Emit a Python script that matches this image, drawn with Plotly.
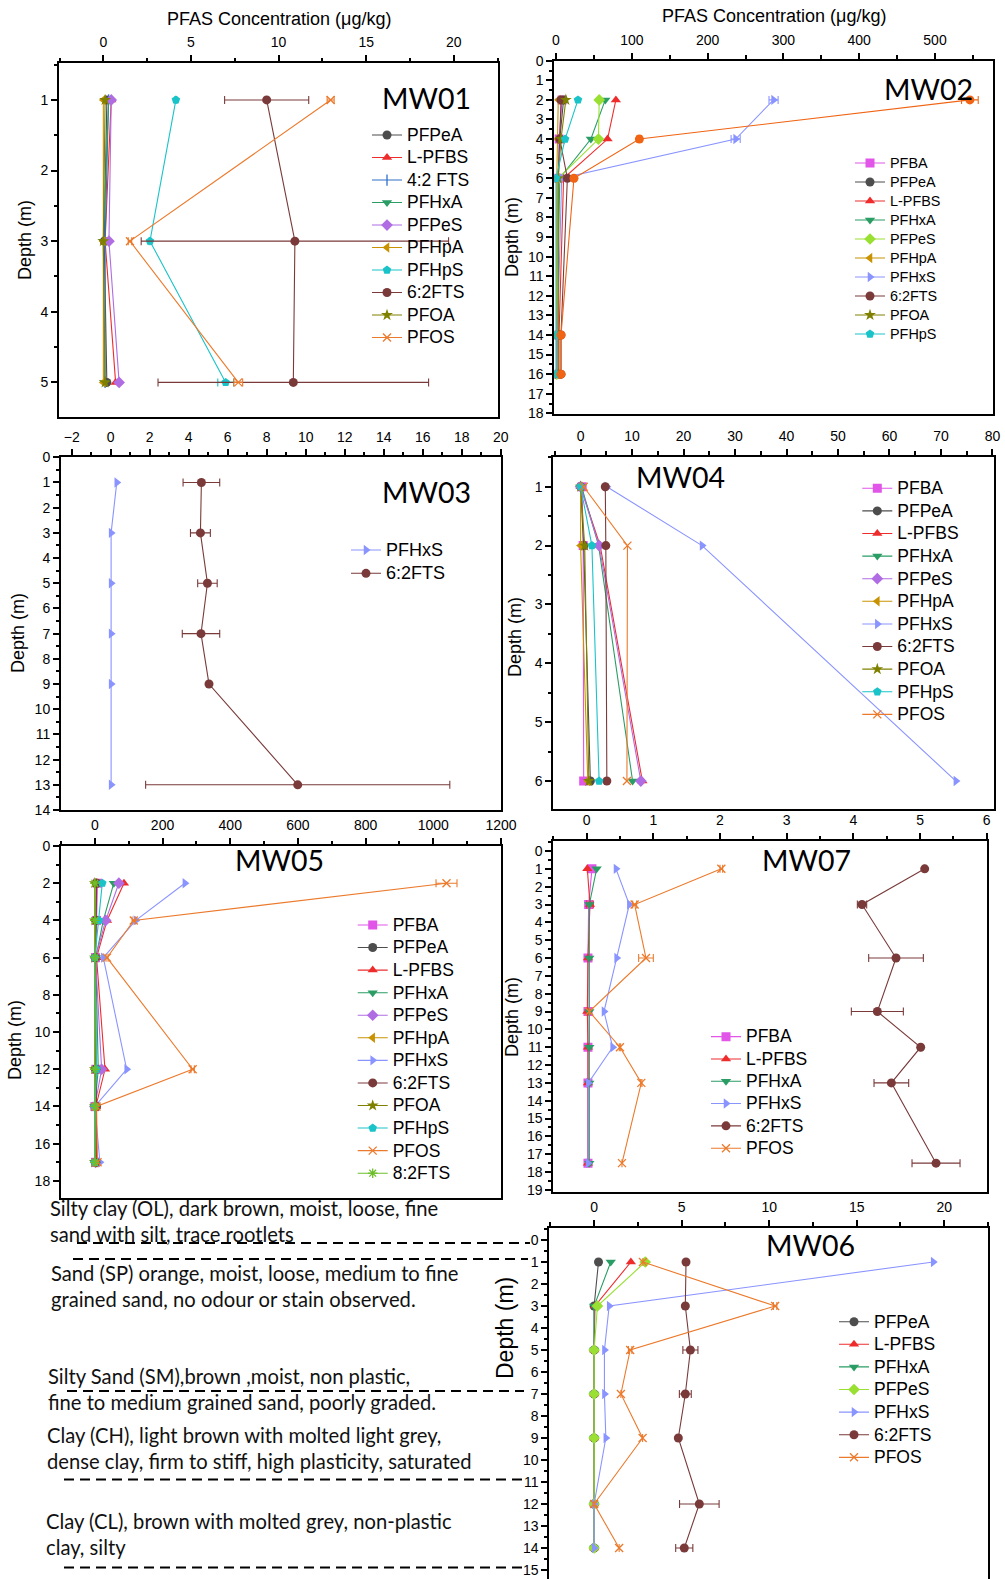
import plotly.graph_objects as go

W, H = 1005, 1579

# ------------------------------------------------------------------ data
MW01_DEPTH = [1, 3, 5]
MW01 = {
    "PFPeA": [0.2, 0.05, 0.2],
    "L-PFBS": [0.45, 0.1, 0.7],
    "4:2 FTS": [0.3, 0.1, 0.1],
    "PFHxA": [0.3, 0.0, 0.05],
    "PFPeS": [0.45, 0.32, 0.9],
    "PFHpA": [0.0, 0.0, 0.0],
    "PFHpS": [4.14, 2.66, 6.98],
    "6:2FTS": [9.32, 10.93, 10.84],
    "PFOA": [0.1, 0.0, 0.1],
    "PFOS": [12.97, 1.52, 7.7],
}
MW01_ERR = {"6:2FTS": [2.4, 8.77, 7.72], "PFOS": [0.2, 0.1, 0.25], "PFHpS": [0.05, 0.05, 0.45]}

MW02_DEPTH = [2, 4, 6, 14, 16]
MW02 = {
    "PFBA": [8, 4, 3, 2, 2],
    "PFPeA": [10, 5, 3, 2, 2],
    "L-PFBS": [79, 68, 10, 4, 4],
    "PFHxA": [65, 46, 5, 1, 1],
    "PFPeS": [57, 56, 3, 1, 1],
    "PFHpA": [3, 2, 1, 1, 1],
    "PFHxS": [287, 237, 7.5, 2, 2],
    "6:2FTS": [6.6, 5, 15, 6.6, 6.6],
    "PFOA": [13, 6.6, 3, 3, 3],
    "PFHpS": [29, 12, 0, 0, 0],
    "PFOS": [546, 110, 23.7, 6.6, 6.6],
}
MW02_ERR = {"PFHxS": [6, 6, 0, 0, 0], "PFOS": [11, 3, 2, 1, 1]}

MW03_DEPTH = [1, 3, 5, 7, 9, 13]
MW03 = {
    "PFHxS": [0.31, 0.02, 0.02, 0.02, 0.02, 0.02],
    "6:2FTS": [4.65, 4.6, 4.96, 4.63, 5.04, 9.59],
}
MW03_ERR = {"6:2FTS": [0.94, 0.51, 0.5, 0.96, 0.0, 7.8]}

MW04_DEPTH = [1, 2, 6]
MW04 = {
    "PFBA": [0.3, 0.5, 0.6],
    "PFPeA": [0.0, 0.6, 1.9],
    "L-PFBS": [0.0, 3.8, 12.0],
    "PFHxA": [0.2, 3.5, 10.1],
    "PFPeS": [0.0, 3.6, 11.7],
    "PFHpA": [0.0, 0.0, 1.4],
    "PFHxS": [5.1, 23.6, 72.9],
    "6:2FTS": [4.8, 4.9, 5.1],
    "PFOA": [0.0, 0.8, 1.6],
    "PFHpS": [0.0, 2.2, 3.6],
    "PFOS": [0.6, 9.1, 9.0],
}
MW04_ERR = {}

MW05_DEPTH = [2, 4, 6, 12, 14, 17]
MW05 = {
    "PFBA": [8, 5, 2, 3, 0, 2],
    "PFPeA": [5, 3, 1, 2, 0, 2],
    "L-PFBS": [86, 36, 5, 30, 3, 5],
    "PFHxA": [56, 25, 3, 10, 0, 0],
    "PFPeS": [71, 32, 2, 20, 0, 2],
    "PFHpA": [0, 0, 0, 0, 0, 0],
    "PFHxS": [266, 121, 25, 94, 0, 15],
    "6:2FTS": [5, 3, 2, 3, 5, 3],
    "PFOA": [0, 0, 0, 0, 0, 0],
    "PFHpS": [22, 12, 0, 5, 0, 0],
    "PFOS": [1039, 115, 36, 289, 5, 8],
    "8:2FTS": [0, 0, 0, 0, 0, 0],
}
MW05_ERR = {"PFOS": [31, 5, 3, 5, 0, 0]}

MW07_DEPTH = [1, 3, 6, 9, 11, 13, 17.5]
MW07 = {
    "PFBA": [0.08, 0.03, 0.02, 0.02, 0.02, 0.02, 0.02],
    "L-PFBS": [0.01, 0.05, 0.02, 0.01, 0.02, 0.02, 0.02],
    "PFHxA": [0.15, 0.04, 0.04, 0.04, 0.04, 0.04, 0.04],
    "PFHxS": [0.44, 0.64, 0.45, 0.26, 0.39, 0.025, 0.02],
    "6:2FTS": [5.07, 4.13, 4.64, 4.36, 5.01, 4.57, 5.24],
    "PFOS": [2.02, 0.72, 0.89, 0.04, 0.5, 0.82, 0.53],
}
MW07_ERR = {"L-PFBS": [0, 0.05, 0, 0, 0, 0, 0],
            "6:2FTS": [0, 0.07, 0.41, 0.39, 0, 0.26, 0.36],
            "PFOS": [0.02, 0.03, 0.11, 0, 0.01, 0.01, 0]}

MW06_DEPTH = [1, 3, 5, 7, 9, 12, 14]
MW06 = {
    "PFPeA": [0.25, 0, 0, 0, 0, 0, 0],
    "L-PFBS": [2.1, 0.05, 0, 0, 0, 0, 0],
    "PFHxA": [0.95, 0, 0, 0, 0, 0, 0],
    "PFPeS": [2.92, 0.19, 0, 0, 0, 0, 0],
    "PFHxS": [19.37, 0.86, 0.59, 0.59, 0.67, 0, 0],
    "6:2FTS": [5.25, 5.21, 5.5, 5.21, 4.81, 6.01, 5.15],
    "PFOS": [2.79, 10.34, 2.06, 1.53, 2.77, 0, 1.43],
}
MW06_ERR = {"6:2FTS": [0, 0, 0.43, 0.34, 0, 1.13, 0.49], "PFOS": [0, 0.1, 0.1, 0, 0, 0, 0]}

SOIL_TEXT = [
    "Silty clay (OL), dark brown, moist, loose, fine",
    "sand with silt, trace rootlets",
    "Sand (SP) orange, moist, loose, medium to fine",
    "grained sand, no odour or stain observed.",
    "Silty Sand (SM),brown ,moist, non plastic,",
    "fine to medium grained sand, poorly graded.",
    "Clay (CH), light brown with molted light grey,",
    "dense clay, firm to stiff, high plasticity, saturated",
    "Clay (CL), brown with molted grey, non-plastic",
    "clay, silty",
]
AXIS_TITLE_X = "PFAS Concentration (μg/kg)"
AXIS_TITLE_Y = "Depth (m)"

# ------------------------------------------------------------------ styles
ARIAL = "Liberation Sans, Arial, sans-serif"
CAL = "Lato, Carlito, Calibri, sans-serif"

STYLE = {
    "PFBA": ("square", "#E155E8"),
    "PFPeA": ("circle", "#4D4D4D"),
    "L-PFBS": ("triangle-up", "#EE2C2C"),
    "4:2 FTS": ("line-ns-open", "#2F6FC8"),
    "PFHxA": ("triangle-down", "#2A9D64"),
    "PFPeS": ("diamond", "#B06CE3"),
    "PFHpA": ("triangle-left", "#C89200"),
    "PFHxS": ("triangle-right", "#8A94FF"),
    "6:2FTS": ("circle", "#7A3A3A"),
    "PFOA": ("star", "#808000"),
    "PFHpS": ("pentagon", "#19C3C8"),
    "PFOS": ("x-thin-open", "#EC7A2C"),
    "8:2FTS": ("asterisk-open", "#6CBF2A"),
}
OVERRIDE = {
    "MW02": {"PFPeS": ("diamond", "#99E033"), "PFOS": ("circle", "#F06414")},
    "MW06": {"PFPeS": ("diamond", "#99E033")},
}
HIDDEN = {"MW02": ["PFOS"]}

# panels: box in px (x0, y0, x1, y1) -----------------------------------
PANELS = [
    dict(key="MW01", data=(MW01_DEPTH, MW01, MW01_ERR), box=(59, 63, 498, 417),
         xr=[-2.53, 22.52], yr=[5.49, 0.477], xd=5, xm=2.5, yd=1, ym=0.5,
         leg=(367, 118.8, 15.0, 17.5), lab=(426, 98), dep=(25, 240, 18), bottom=True),
    dict(key="MW02", data=(MW02_DEPTH, MW02, MW02_ERR), box=(554.3, 60.7, 993.3, 414.3),
         xr=[-2.24, 576.9], yr=[18.05, 0], xd=100, xm=50, yd=1, ym=0.5,
         leg=(850, 148.5, 12, 14.4), lab=(928, 89), dep=(512, 237, 18), bottom=True),
    dict(key="MW03", data=(MW03_DEPTH, MW03, MW03_ERR), box=(61, 457.3, 500.7, 810),
         xr=[-2.55, 20], yr=[14, 0], xd=2, xm=1, yd=1, ym=0.5,
         leg=(346, 533.4, 15.6, 18), lab=(426, 491.7), dep=(18, 633, 18), bottom=True),
    dict(key="MW04", data=(MW04_DEPTH, MW04, MW04_ERR), box=(553.3, 456.7, 994, 809.3),
         xr=[-5.3, 80.3], yr=[6.48, 0.49], xd=10, xm=5, yd=1, ym=0.5,
         leg=(857.3, 472, 15.08, 17.5), lab=(680.5, 476.7), dep=(515, 637, 18), bottom=True),
    dict(key="MW05", data=(MW05_DEPTH, MW05, MW05_ERR), box=(61, 846, 501, 1198),
         xr=[-100, 1200], yr=[18.92, 0], xd=200, xm=100, yd=2, ym=1,
         leg=(352.7, 908.7, 15.05, 17.5), lab=(279, 860), dep=(15, 1040, 18), bottom=True),
    dict(key="MW07", data=(MW07_DEPTH, MW07, MW07_ERR), box=(553.3, 841, 986.7, 1191.7),
         xr=[-0.5, 6.0], yr=[19.1, -0.56], xd=1, xm=0.5, yd=1, ym=0.5,
         leg=(706, 1020.5, 14.85, 17.5), lab=(806, 860), dep=(512, 1017, 18), bottom=True),
    dict(key="MW06", data=(MW06_DEPTH, MW06, MW06_ERR), box=(549.3, 1227.7, 988, 1579),
         xr=[-2.56, 22.5], yr=[15.41, -0.56], xd=5, xm=2.5, yd=1, ym=0.5,
         leg=(834, 1305.4, 15.08, 17.5), lab=(810, 1245), dep=(505, 1328, 23), bottom=False),
]

SOIL_POS = [(48, 1208), (48, 1234), (49, 1273), (49, 1299), (45.7, 1376),
            (45.7, 1402), (45, 1435), (45, 1461), (44.3, 1521), (44.3, 1547)]
DASHES = [(77, 1243, 530), (73, 1259, 528), (67, 1391, 524), (64, 1479.5, 522), (64, 1567.5, 522)]


def px(x):
    return x / W


def py(y):
    return 1 - y / H


fig = go.Figure()
layout = dict(width=W, height=H, margin=dict(l=0, r=0, t=0, b=0, autoexpand=False),
              paper_bgcolor="white", plot_bgcolor="white", showlegend=True,
              font=dict(family=ARIAL, color="black"))
annotations = []
shapes = []

for i, p in enumerate(PANELS):
    n = i + 1
    sfx = "" if n == 1 else str(n)
    x0, y0, x1, y1 = p["box"]
    common = dict(showline=True, linecolor="black", linewidth=2, ticks="outside",
                  ticklen=6, tickwidth=1.5, tickcolor="black", showgrid=False,
                  zeroline=False, automargin=False,
                  tickfont=dict(family=ARIAL, size=14, color="black"))
    layout["xaxis" + sfx] = dict(common, domain=[px(x0), px(x1)], range=p["xr"], side="top",
                                 anchor="y" + sfx, dtick=p["xd"], tick0=0, mirror=p["bottom"],
                                 ticklabelstandoff=2,
                                 minor=dict(ticks="outside", ticklen=3.5, tickwidth=1.5,
                                            tickcolor="black", dtick=p["xm"], tick0=0, showgrid=False))
    layout["yaxis" + sfx] = dict(common, domain=[py(y1), py(y0)], range=p["yr"],
                                 anchor="x" + sfx, dtick=p["yd"], tick0=0, mirror=True,
                                 minor=dict(ticks="outside", ticklen=3.5, tickwidth=1.5,
                                            tickcolor="black", dtick=p["ym"], tick0=0, showgrid=False))
    lx, ltop, lfs, tsz = p["leg"]
    legname = "legend" + sfx
    layout[legname] = dict(x=px(lx), y=py(ltop), xanchor="left", yanchor="top",
                           bgcolor="rgba(0,0,0,0)", borderwidth=0, tracegroupgap=0,
                           font=dict(family=ARIAL, size=lfs, color="black"))

    depth, series, errs = p["data"]
    for name, vals in series.items():
        sym, col = OVERRIDE.get(p["key"], {}).get(name, STYLE[name])
        open_sym = sym.endswith("-open")
        marker = dict(symbol=sym, color=col, size=9 if not open_sym else 8,
                      line=dict(width=1.3 if open_sym else 0, color=col))
        tr = dict(x=vals, y=depth, mode="lines+markers",
                  name="<span style='font-size:%spx'>%s</span>" % (tsz, name),
                  line=dict(color=col, width=1.1), marker=marker,
                  xaxis="x" + sfx, yaxis="y" + sfx, legend=legname,
                  showlegend=name not in HIDDEN.get(p["key"], []))
        if name in errs:
            tr["error_x"] = dict(type="data", array=errs[name], symmetric=True,
                                 color=col, thickness=1.1, width=4)
        fig.add_trace(go.Scatter(**tr))

    lxp, lyp = p["lab"]
    annotations.append(dict(text=p["key"], x=px(lxp), y=py(lyp), xref="paper", yref="paper",
                            showarrow=False, xanchor="center", yanchor="middle",
                            font=dict(family=CAL, size=28.5, color="black")))
    dx, dy, dfs = p["dep"]
    annotations.append(dict(text=AXIS_TITLE_Y, x=px(dx), y=py(dy), xref="paper", yref="paper",
                            showarrow=False, textangle=-90, xanchor="center", yanchor="middle",
                            font=dict(family=ARIAL, size=dfs, color="black")))

for (tx, ty) in [(278.5, 19), (774, 16)]:
    annotations.append(dict(text=AXIS_TITLE_X, x=px(tx), y=py(ty), xref="paper", yref="paper",
                            showarrow=False, xanchor="center", yanchor="middle",
                            font=dict(family=ARIAL, size=18, color="black")))

for line, (tx, ty) in zip(SOIL_TEXT, SOIL_POS):
    annotations.append(dict(text=line, x=px(tx), y=py(ty), xref="paper", yref="paper",
                            showarrow=False, xanchor="left", yanchor="middle",
                            font=dict(family=CAL, size=20.2, color="#111111")))

for (xa, yy, xb) in DASHES:
    shapes.append(dict(type="line", xref="paper", yref="paper", x0=px(xa), x1=px(xb),
                       y0=py(yy), y1=py(yy), line=dict(color="black", width=2.2, dash="10px,6px")))

layout["annotations"] = annotations
layout["shapes"] = shapes
fig.update_layout(**layout)
fig.write_html("out.html", config={"displayModeBar": False},
               post_script="document.body.style.margin='0px';document.body.style.overflow='hidden';")
